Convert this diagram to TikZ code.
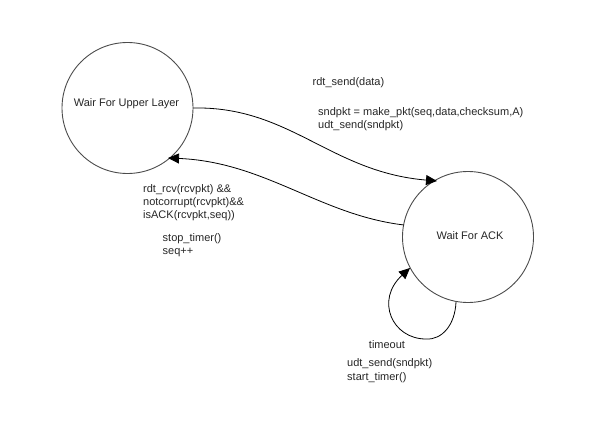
\documentclass[tikz,border=0pt]{standalone}
\usepackage{fontspec}
\setmainfont{Liberation Sans}
\usetikzlibrary{arrows.meta}
\begin{document}
\begin{tikzpicture}[x=1pt,y=-1pt,
  state/.style={draw=black!70,line width=0.9pt,circle,minimum size=131pt,inner sep=0pt,font=\fontsize{11}{13}\selectfont,text=black!85},
  lbl/.style={anchor=west,inner sep=0pt,font=\fontsize{11}{13}\selectfont,text=black!85},
  edge/.style={draw=black,line width=0.8pt,-{Triangle[length=11pt,width=10pt]}}]
\useasboundingbox (0,0) rectangle (612,441);
\node[state] (up) at (127.5,108) {};
\node[lbl,anchor=center] (upt) at (126.5,104) {Wair For Upper Layer};
\node[state] (ack) at (468,237) {};
\node[lbl,anchor=center] (ackt) at (470,236) {Wait For ACK};
% transitions
\coordinate (a1s) at (193,108);
\coordinate (a1e) at (437,181);
\draw[edge] (a1s) .. controls (290,106) and (330,172) .. (a1e);
\coordinate (a2s) at (404,225);
\coordinate (a2e) at (168,158);
\draw[edge] (a2s) .. controls (320,215) and (265,162) .. (a2e);
\coordinate (l1) at (456,302);
\coordinate (l2) at (426,339);
\coordinate (l3) at (410,268);
\draw[edge] (l1) .. controls (455,325) and (442,340) .. (l2) .. controls (392,339) and (375,300) .. (l3);
% labels
\node[lbl] (t1) at (312.5,83) {rdt\_send(data)};
\node[lbl] (t2) at (318,113) {sndpkt = make\_pkt(seq,data,checksum,A)};
\node[lbl] (t3) at (318,126) {udt\_send(sndpkt)};
\node[lbl] (r1) at (143,190) {rdt\_rcv(rcvpkt) \&\&};
\node[lbl] (r2) at (143,203) {notcorrupt(rcvpkt)\&\&};
\node[lbl] (r3) at (143,216) {isACK(rcvpkt,seq))};
\node[lbl] (r4) at (162.5,239) {stop\_timer()};
\node[lbl] (r5) at (162.5,252) {seq++};
\node[lbl,anchor=center] (to) at (387,345) {timeout};
\node[lbl] (u1) at (347,364) {udt\_send(sndpkt)};
\node[lbl] (u2) at (347,378) {start\_timer()};
\end{tikzpicture}
\end{document}
